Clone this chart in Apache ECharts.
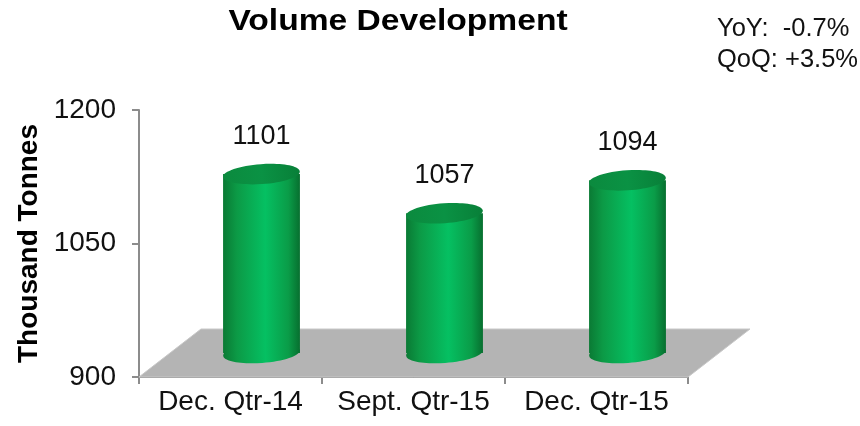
<!DOCTYPE html>
<html><head><meta charset="utf-8">
<script src="https://cdn.jsdelivr.net/npm/echarts@6/dist/echarts.min.js"></script>
<style>html,body{margin:0;padding:0;background:#fff}#c{width:860px;height:426px}</style>
</head><body><div id="c"></div>
<script>
const categories = ['Dec. Qtr-14', 'Sept. Qtr-15', 'Dec. Qtr-15'];
const volumes = [1101, 1057, 1094];
const yTicks = [900, 1050, 1200];
const titleText = 'Volume Development';
const changeLines = ['YoY:  -0.7%', 'QoQ: +3.5%'];
const axisName = 'Thousand Tonnes';

const FONT = '"Liberation Sans", Arial, sans-serif';
const DX = 62, DY = 48;
const yMin = yTicks[0], yMax = yTicks[yTicks.length - 1], yStep = yTicks[1] - yTicks[0];

const chart = echarts.init(document.getElementById('c'), null, {renderer: 'canvas'});

const bodyGrad = () => new echarts.graphic.LinearGradient(0, 0, 1, 0, [
  {offset: 0, color: '#0a7a34'},
  {offset: 0.18, color: '#0c9a46'},
  {offset: 0.55, color: '#05c062'},
  {offset: 0.85, color: '#0a9c48'},
  {offset: 1, color: '#076f2f'}
]);
const topGrad = () => new echarts.graphic.LinearGradient(0, 0, 1, 0, [
  {offset: 0, color: '#0b8a3e'},
  {offset: 0.5, color: '#0a9244'},
  {offset: 1, color: '#087f38'}
]);

const graphics = [{
  type: 'text', x: 398, y: 22, scaleX: 1.12,
  style: {text: titleText, x: 0, y: 0, font: 'bold 30px ' + FONT, fill: '#000', align: 'center', verticalAlign: 'middle'}
}].concat(changeLines.map((t, i) => ({
  type: 'text', x: 717, y: 29 + i * 31,
  style: {text: t, x: 0, y: 0, font: '25.5px ' + FONT, fill: '#111', align: 'left', verticalAlign: 'middle'}
})));

chart.setOption({
  animation: false,
  backgroundColor: '#fff',
  graphic: graphics,
  grid: {left: 139, right: 172, top: 110, bottom: 49, containLabel: false},
  xAxis: {
    type: 'category', data: categories, boundaryGap: true,
    axisLine: {show: true, lineStyle: {color: '#8c8c8c', width: 2}},
    axisTick: {show: true, length: 7, lineStyle: {color: '#8c8c8c', width: 2}},
    axisLabel: {fontFamily: FONT, fontSize: 28, color: '#111', margin: 11, interval: 0, hideOverlap: false}
  },
  yAxis: {
    type: 'value', min: yMin, max: yMax, interval: yStep,
    name: axisName, nameLocation: 'middle', nameRotate: 90, nameGap: 96,
    nameTextStyle: {fontFamily: FONT, fontSize: 28, fontWeight: 'bold', color: '#000'},
    axisLine: {show: true, lineStyle: {color: '#8c8c8c', width: 2}},
    axisTick: {show: true, length: 7, lineStyle: {color: '#8c8c8c', width: 2}},
    axisLabel: {fontFamily: FONT, fontSize: 28, color: '#111', margin: 23, formatter: v => String(v)},
    splitLine: {show: false}
  },
  series: [
    {
      type: 'custom', name: 'floor', z: 1, silent: true,
      data: [[0, yMin]],
      renderItem: function (params, api) {
        const c0 = api.coord([0, yMin]);
        const band = api.size([1, 0])[0];
        const left = c0[0] - band / 2, right = left + band * categories.length, y = c0[1];
        return {
          type: 'polygon',
          shape: {points: [[left, y], [right, y], [right + DX, y - DY], [left + DX, y - DY]]},
          style: {fill: '#b4b4b4', stroke: '#c8c8c8', lineWidth: 1}
        };
      }
    },
    {
      type: 'custom', name: 'Volume', z: 3,
      data: volumes.map((v, i) => [i, v]),
      encode: {x: 0, y: 1},
      renderItem: function (params, api) {
        const p = api.coord([api.value(0), api.value(1)]);
        const b = api.coord([api.value(0), yMin]);
        const band = api.size([1, 0])[0];
        const w = band * 0.42;
        const cx = p[0] + DX / 2;
        const topY = p[1] - DY / 2;
        const baseY = b[1] - DY / 2;
        const ry = 10;
        const rot = 0.07;
        return {
          type: 'group',
          children: [
            {type: 'ellipse', shape: {cx: cx, cy: baseY, rx: w / 2, ry: ry}, rotation: rot, originX: cx, originY: baseY, style: {fill: bodyGrad()}},
            {type: 'rect', shape: {x: cx - w / 2, y: topY, width: w, height: baseY - topY}, style: {fill: bodyGrad()}},
            {type: 'ellipse', shape: {cx: cx, cy: topY, rx: w / 2, ry: ry}, rotation: rot, originX: cx, originY: topY, style: {fill: topGrad()}},
            {type: 'text', x: cx, y: topY - 38, style: {text: String(api.value(1)), font: '27px ' + FONT, fill: '#111', align: 'center', verticalAlign: 'middle'}}
          ]
        };
      }
    }
  ]
});
</script>
</body></html>
